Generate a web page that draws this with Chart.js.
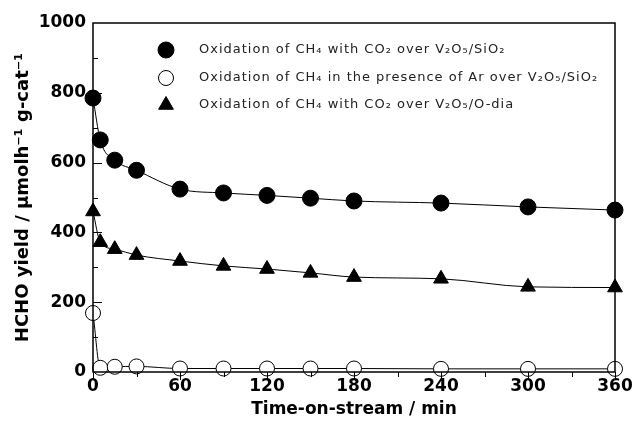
<!DOCTYPE html>
<html>
<head>
<meta charset="utf-8">
<script src="https://cdn.jsdelivr.net/npm/chart.js@4/dist/chart.umd.min.js"></script>
<style>
  html, body { margin: 0; padding: 0; background: #fff; }
  #wrap { width: 632px; height: 431px; position: relative; }
</style>
</head>
<body>
<div id="wrap"><canvas id="chart"></canvas></div>
<script>
// Data
const timeMin = [0, 5, 15, 30, 60, 90, 120, 150, 180, 240, 300, 360];
const co2SiO2 = [785, 665, 607, 578, 524, 513, 506, 498, 490, 484, 473, 464];
const arSiO2 = [169, 12, 15, 16, 10, 10, 10, 10, 10, 9, 9, 9];
const co2ODia = [460, 372, 352, 335, 318, 304, 295, 284, 272, 267, 244, 242];

const xTicks = [0, 60, 120, 180, 240, 300, 360];
const yTicks = [0, 200, 400, 600, 800, 1000];

const seriesLabels = [
    'Oxidation of CH\u2084 with CO\u2082 over V\u2082O\u2085/SiO\u2082',
    'Oxidation of CH\u2084 in the presence of Ar over V\u2082O\u2085/SiO\u2082',
    'Oxidation of CH\u2084 with CO\u2082 over V\u2082O\u2085/O-dia'
];

const toXY = (ys) => ys.map((v, i) => ({ x: timeMin[i], y: v }));

const boldFont = (size) => ({ family: "'DejaVu Sans', sans-serif", size: size, weight: 'bold' });

// frame, minor ticks and the in-plot legend
const framePlugin = {
    id: 'frame',
    afterDraw(chart) {
        const { ctx, chartArea: a, scales } = chart;
        ctx.save();
        ctx.strokeStyle = '#000';
        ctx.lineWidth = 1.5;
        ctx.strokeRect(a.left, a.top, a.right - a.left, a.bottom - a.top);

        ctx.lineWidth = 1;
        // y ticks pointing in
        for (let v = 100; v < 1000; v += 100) {
            const y = Math.round(scales.y.getPixelForValue(v)) + 0.5;
            const len = v % 200 === 0 ? 9 : 5;
            ctx.beginPath();
            ctx.moveTo(a.left, y);
            ctx.lineTo(a.left + len, y);
            ctx.stroke();
        }
        // x ticks pointing out
        for (let t = 0; t <= 360; t += 30) {
            const x = Math.round(scales.x.getPixelForValue(t)) + 0.5;
            const len = t % 60 === 0 ? 8 : 5;
            ctx.beginPath();
            ctx.moveTo(x, a.bottom);
            ctx.lineTo(x, a.bottom + len);
            ctx.stroke();
        }

        // legend
        const mx = 166, tx = 199;
        const rows = [50, 78, 105];
        ctx.font = "13px 'DejaVu Sans', sans-serif";
        ctx.letterSpacing = '1px';
        ctx.textBaseline = 'middle';
        chart.data.datasets.forEach((ds, i) => {
            const y = rows[i];
            ctx.fillStyle = ds.pointBackgroundColor;
            ctx.strokeStyle = '#000';
            ctx.lineWidth = 1;
            ctx.beginPath();
            if (ds.pointStyle === 'triangle') {
                const r = 8.5;
                ctx.moveTo(mx, y - r);
                ctx.lineTo(mx + r * 0.866, y + r / 2);
                ctx.lineTo(mx - r * 0.866, y + r / 2);
                ctx.closePath();
            } else {
                ctx.arc(mx, y, ds.pointRadius, 0, Math.PI * 2);
            }
            ctx.fill();
            ctx.stroke();
            ctx.fillStyle = '#222';
            ctx.fillText(ds.label, tx, y);
        });
        ctx.restore();
    }
};

function makeSet(label, values, style, fill, radius) {
    return {
        label: label,
        data: toXY(values),
        borderColor: '#000',
        borderWidth: 1,
        pointStyle: style,
        pointRadius: radius,
        pointHoverRadius: radius,
        pointBackgroundColor: fill,
        pointBorderColor: '#000',
        pointBorderWidth: 1,
        cubicInterpolationMode: 'monotone',
        clip: false
    };
}

new Chart(document.getElementById('chart'), {
    type: 'scatter',
    data: {
        datasets: [
            makeSet(seriesLabels[0], co2SiO2, 'circle', '#000', 8),
            makeSet(seriesLabels[1], arSiO2, 'circle', '#fff', 7.5),
            makeSet(seriesLabels[2], co2ODia, 'triangle', '#000', 8.5)
        ]
    },
    options: {
        responsive: true,
        maintainAspectRatio: false,
        animation: false,
        showLine: true,
        layout: { padding: { top: 23, right: 17, left: 0, bottom: 0 } },
        plugins: { legend: { display: false }, tooltip: { enabled: false } },
        scales: {
            x: {
                type: 'linear',
                min: 0,
                max: 360,
                afterBuildTicks: (s) => { s.ticks = xTicks.map(v => ({ value: v })); },
                afterFit: (s) => { s.height = 59; s.paddingLeft = 0; s.paddingRight = 0; },
                grid: { display: false, drawTicks: false },
                border: { display: false },
                ticks: { color: '#000', font: boldFont(17), padding: 4, maxRotation: 0, callback: (v) => String(v) },
                title: {
                    display: true,
                    text: 'Time-on-stream / min',
                    color: '#000',
                    font: boldFont(17),
                    padding: { top: 0, bottom: 11 }
                }
            },
            y: {
                min: 0,
                max: 1000,
                afterBuildTicks: (s) => { s.ticks = yTicks.map(v => ({ value: v })); },
                afterFit: (s) => { s.width = 93; s.paddingTop = 0; s.paddingBottom = 0; },
                grid: { display: false, drawTicks: false },
                border: { display: false },
                ticks: { color: '#000', font: boldFont(17), padding: 7, callback: (v) => String(v) },
                title: {
                    display: true,
                    text: 'HCHO yield / \u03bcmolh\u207b\u00b9 g-cat\u207b\u00b9',
                    color: '#000',
                    font: boldFont(18),
                    padding: { top: 13, bottom: 0 }
                }
            }
        }
    },
    plugins: [framePlugin]
});
</script>
</body>
</html>
